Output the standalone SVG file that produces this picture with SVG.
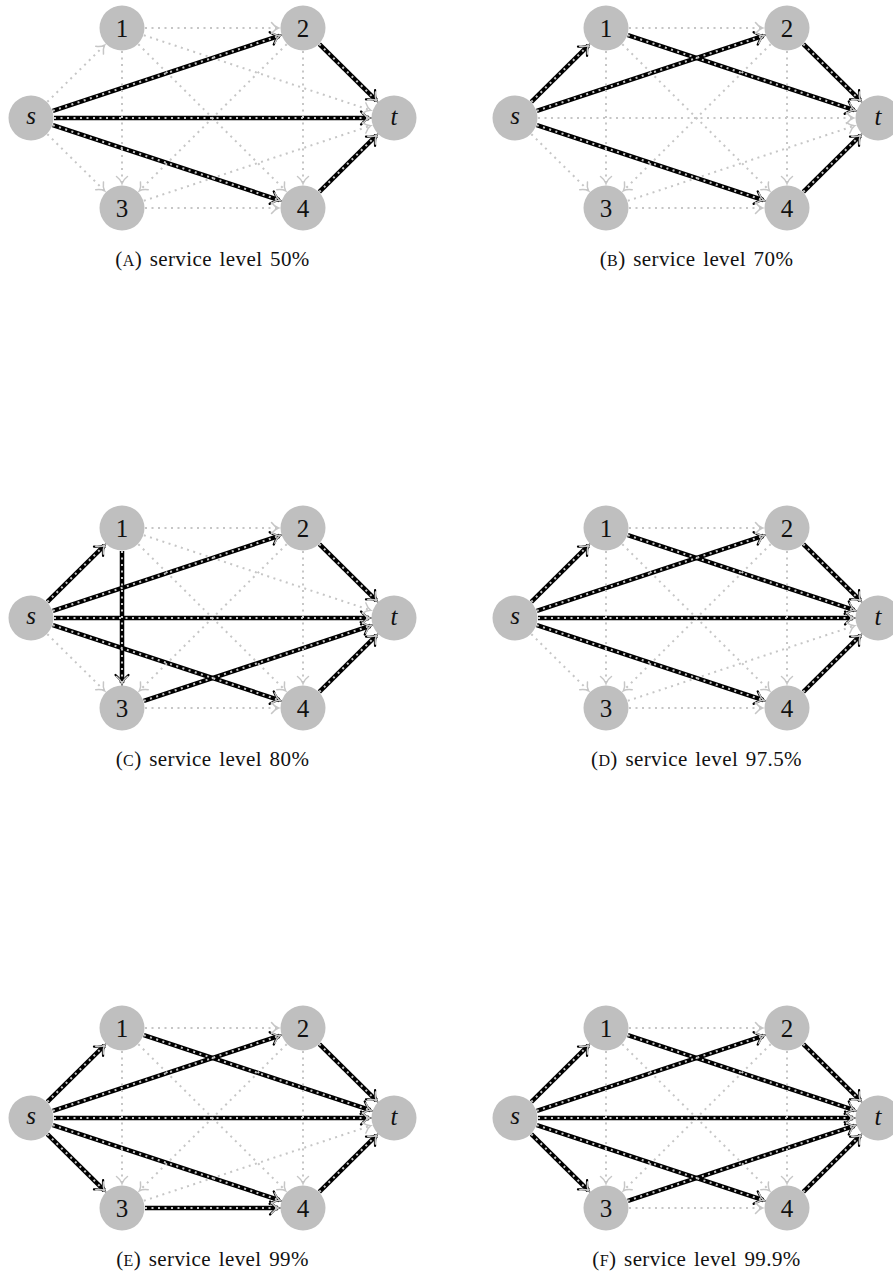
<svg xmlns="http://www.w3.org/2000/svg" width="893" height="1277" viewBox="0 0 893 1277">
<style>
.sel{stroke:#000;stroke-width:4.5;fill:none;marker-end:url(#ahb)}
.dot{stroke:#c6c6c6;stroke-width:2;stroke-dasharray:2 4.5;fill:none;marker-end:url(#ahg)}
.nd{fill:#bfbfbf}
.lbl{font-family:"Liberation Serif","Times New Roman",serif;font-size:25px;text-anchor:middle;fill:#111}
.it{font-style:italic}
.cap{font-family:"Liberation Serif","Times New Roman",serif;font-size:21px;word-spacing:2px;letter-spacing:0.4px;text-anchor:middle;fill:#111}
.sc{font-size:16px}
</style>
<defs>
<marker id="ahb" markerUnits="userSpaceOnUse" viewBox="-10 -8 12 16" refX="0" refY="0" markerWidth="12" markerHeight="16" orient="auto" overflow="visible">
<path d="M -8 -6.5 C -5.5 -3.5 -2.5 -1 0.5 0 C -2.5 1 -5.5 3.5 -8 6.5" fill="none" stroke="#000" stroke-width="2.2" stroke-linecap="round"/>
</marker>
<marker id="ahg" markerUnits="userSpaceOnUse" viewBox="-10 -8 12 16" refX="0" refY="0" markerWidth="12" markerHeight="16" orient="auto" overflow="visible">
<path d="M -6.5 -5.5 C -4.5 -2.8 -2 -0.8 0.5 0 C -2 0.8 -4.5 2.8 -6.5 5.5" fill="none" stroke="#c6c6c6" stroke-width="1.5" stroke-linecap="round"/>
</marker>
<g id="allE">
<line id="e-s1" x1="47.35" y1="101.83" x2="104.22" y2="45.58"/>
<line id="e-s2" x1="52.84" y1="110.78" x2="279.27" y2="35.85"/>
<line id="e-s3" x1="47.35" y1="134.17" x2="104.22" y2="190.42"/>
<line id="e-s4" x1="52.84" y1="125.22" x2="279.27" y2="200.15"/>
<line id="e-st" x1="54" y1="118" x2="369" y2="118"/>
<line id="e-12" x1="145" y1="28" x2="278" y2="28"/>
<line id="e-13" x1="122" y1="51" x2="122" y2="183"/>
<line id="e-14" x1="138.31" y1="44.22" x2="285.27" y2="190.37"/>
<line id="e-1t" x1="143.84" y1="35.22" x2="370.27" y2="110.15"/>
<line id="e-23" x1="286.69" y1="44.22" x2="139.73" y2="190.37"/>
<line id="e-24" x1="303" y1="51" x2="303" y2="183"/>
<line id="e-2t" x1="319.35" y1="44.17" x2="376.22" y2="100.42"/>
<line id="e-34" x1="145" y1="208" x2="278" y2="208"/>
<line id="e-3t" x1="143.84" y1="200.78" x2="370.27" y2="125.85"/>
<line id="e-4t" x1="319.35" y1="191.83" x2="376.22" y2="135.58"/>
</g>
</defs>
<rect width="893" height="1277" fill="#fff"/>

<!-- Panel A -->
<g id="panel-a">
<g id="a-connectors">
<use href="#e-s2" class="sel"/><use href="#e-st" class="sel"/><use href="#e-s4" class="sel"/><use href="#e-2t" class="sel"/><use href="#e-4t" class="sel"/>
<use href="#allE" class="dot"/>
</g>
<g id="a-s"><circle class="nd" cx="31" cy="118" r="22.5"/><text class="lbl it" x="31" y="124">s</text></g>
<g id="a-1"><circle class="nd" cx="122" cy="28" r="22.5"/><text class="lbl" x="122" y="36.5">1</text></g>
<g id="a-2"><circle class="nd" cx="303" cy="28" r="22.5"/><text class="lbl" x="303" y="36.5">2</text></g>
<g id="a-3"><circle class="nd" cx="122" cy="208" r="22.5"/><text class="lbl" x="122" y="216.5">3</text></g>
<g id="a-4"><circle class="nd" cx="303" cy="208" r="22.5"/><text class="lbl" x="303" y="216.5">4</text></g>
<g id="a-t"><circle class="nd" cx="394" cy="118" r="22.5"/><text class="lbl it" x="394" y="125">t</text></g>
<text class="cap" x="212.5" y="266">(<tspan class="sc">A</tspan>) service level 50%</text>
</g>

<!-- Panel B -->
<g id="panel-b" transform="translate(484,0)">
<g id="b-connectors">
<use href="#e-s1" class="sel"/><use href="#e-s2" class="sel"/><use href="#e-s4" class="sel"/><use href="#e-1t" class="sel"/><use href="#e-2t" class="sel"/><use href="#e-4t" class="sel"/>
<use href="#allE" class="dot"/>
</g>
<g id="b-s"><circle class="nd" cx="31" cy="118" r="22.5"/><text class="lbl it" x="31" y="124">s</text></g>
<g id="b-1"><circle class="nd" cx="122" cy="28" r="22.5"/><text class="lbl" x="122" y="36.5">1</text></g>
<g id="b-2"><circle class="nd" cx="303" cy="28" r="22.5"/><text class="lbl" x="303" y="36.5">2</text></g>
<g id="b-3"><circle class="nd" cx="122" cy="208" r="22.5"/><text class="lbl" x="122" y="216.5">3</text></g>
<g id="b-4"><circle class="nd" cx="303" cy="208" r="22.5"/><text class="lbl" x="303" y="216.5">4</text></g>
<g id="b-t"><circle class="nd" cx="394" cy="118" r="22.5"/><text class="lbl it" x="394" y="125">t</text></g>
<text class="cap" x="212.5" y="266">(<tspan class="sc">B</tspan>) service level 70%</text>
</g>

<!-- Panel C -->
<g id="panel-c" transform="translate(0,500)">
<g id="c-connectors">
<use href="#e-s1" class="sel"/><use href="#e-s2" class="sel"/><use href="#e-st" class="sel"/><use href="#e-s4" class="sel"/><use href="#e-13" class="sel"/><use href="#e-3t" class="sel"/><use href="#e-2t" class="sel"/><use href="#e-4t" class="sel"/>
<use href="#allE" class="dot"/>
</g>
<g id="c-s"><circle class="nd" cx="31" cy="118" r="22.5"/><text class="lbl it" x="31" y="124">s</text></g>
<g id="c-1"><circle class="nd" cx="122" cy="28" r="22.5"/><text class="lbl" x="122" y="36.5">1</text></g>
<g id="c-2"><circle class="nd" cx="303" cy="28" r="22.5"/><text class="lbl" x="303" y="36.5">2</text></g>
<g id="c-3"><circle class="nd" cx="122" cy="208" r="22.5"/><text class="lbl" x="122" y="216.5">3</text></g>
<g id="c-4"><circle class="nd" cx="303" cy="208" r="22.5"/><text class="lbl" x="303" y="216.5">4</text></g>
<g id="c-t"><circle class="nd" cx="394" cy="118" r="22.5"/><text class="lbl it" x="394" y="125">t</text></g>
<text class="cap" x="212.5" y="266">(<tspan class="sc">C</tspan>) service level 80%</text>
</g>

<!-- Panel D -->
<g id="panel-d" transform="translate(484,500)">
<g id="d-connectors">
<use href="#e-s1" class="sel"/><use href="#e-s2" class="sel"/><use href="#e-st" class="sel"/><use href="#e-s4" class="sel"/><use href="#e-1t" class="sel"/><use href="#e-2t" class="sel"/><use href="#e-4t" class="sel"/>
<use href="#allE" class="dot"/>
</g>
<g id="d-s"><circle class="nd" cx="31" cy="118" r="22.5"/><text class="lbl it" x="31" y="124">s</text></g>
<g id="d-1"><circle class="nd" cx="122" cy="28" r="22.5"/><text class="lbl" x="122" y="36.5">1</text></g>
<g id="d-2"><circle class="nd" cx="303" cy="28" r="22.5"/><text class="lbl" x="303" y="36.5">2</text></g>
<g id="d-3"><circle class="nd" cx="122" cy="208" r="22.5"/><text class="lbl" x="122" y="216.5">3</text></g>
<g id="d-4"><circle class="nd" cx="303" cy="208" r="22.5"/><text class="lbl" x="303" y="216.5">4</text></g>
<g id="d-t"><circle class="nd" cx="394" cy="118" r="22.5"/><text class="lbl it" x="394" y="125">t</text></g>
<text class="cap" x="212.5" y="266">(<tspan class="sc">D</tspan>) service level 97.5%</text>
</g>

<!-- Panel E -->
<g id="panel-e" transform="translate(0,1000)">
<g id="e-connectors">
<use href="#e-s1" class="sel"/><use href="#e-s2" class="sel"/><use href="#e-st" class="sel"/><use href="#e-s3" class="sel"/><use href="#e-s4" class="sel"/><use href="#e-1t" class="sel"/><use href="#e-2t" class="sel"/><use href="#e-34" class="sel"/><use href="#e-4t" class="sel"/>
<use href="#allE" class="dot"/>
</g>
<g id="e-s"><circle class="nd" cx="31" cy="118" r="22.5"/><text class="lbl it" x="31" y="124">s</text></g>
<g id="e-1"><circle class="nd" cx="122" cy="28" r="22.5"/><text class="lbl" x="122" y="36.5">1</text></g>
<g id="e-2"><circle class="nd" cx="303" cy="28" r="22.5"/><text class="lbl" x="303" y="36.5">2</text></g>
<g id="e-3"><circle class="nd" cx="122" cy="208" r="22.5"/><text class="lbl" x="122" y="216.5">3</text></g>
<g id="e-4"><circle class="nd" cx="303" cy="208" r="22.5"/><text class="lbl" x="303" y="216.5">4</text></g>
<g id="e-t"><circle class="nd" cx="394" cy="118" r="22.5"/><text class="lbl it" x="394" y="125">t</text></g>
<text class="cap" x="212.5" y="266">(<tspan class="sc">E</tspan>) service level 99%</text>
</g>

<!-- Panel F -->
<g id="panel-f" transform="translate(484,1000)">
<g id="f-connectors">
<use href="#e-s1" class="sel"/><use href="#e-s2" class="sel"/><use href="#e-st" class="sel"/><use href="#e-s3" class="sel"/><use href="#e-s4" class="sel"/><use href="#e-1t" class="sel"/><use href="#e-2t" class="sel"/><use href="#e-3t" class="sel"/><use href="#e-4t" class="sel"/>
<use href="#allE" class="dot"/>
</g>
<g id="f-s"><circle class="nd" cx="31" cy="118" r="22.5"/><text class="lbl it" x="31" y="124">s</text></g>
<g id="f-1"><circle class="nd" cx="122" cy="28" r="22.5"/><text class="lbl" x="122" y="36.5">1</text></g>
<g id="f-2"><circle class="nd" cx="303" cy="28" r="22.5"/><text class="lbl" x="303" y="36.5">2</text></g>
<g id="f-3"><circle class="nd" cx="122" cy="208" r="22.5"/><text class="lbl" x="122" y="216.5">3</text></g>
<g id="f-4"><circle class="nd" cx="303" cy="208" r="22.5"/><text class="lbl" x="303" y="216.5">4</text></g>
<g id="f-t"><circle class="nd" cx="394" cy="118" r="22.5"/><text class="lbl it" x="394" y="125">t</text></g>
<text class="cap" x="212.5" y="266">(<tspan class="sc">F</tspan>) service level 99.9%</text>
</g>
</svg>
